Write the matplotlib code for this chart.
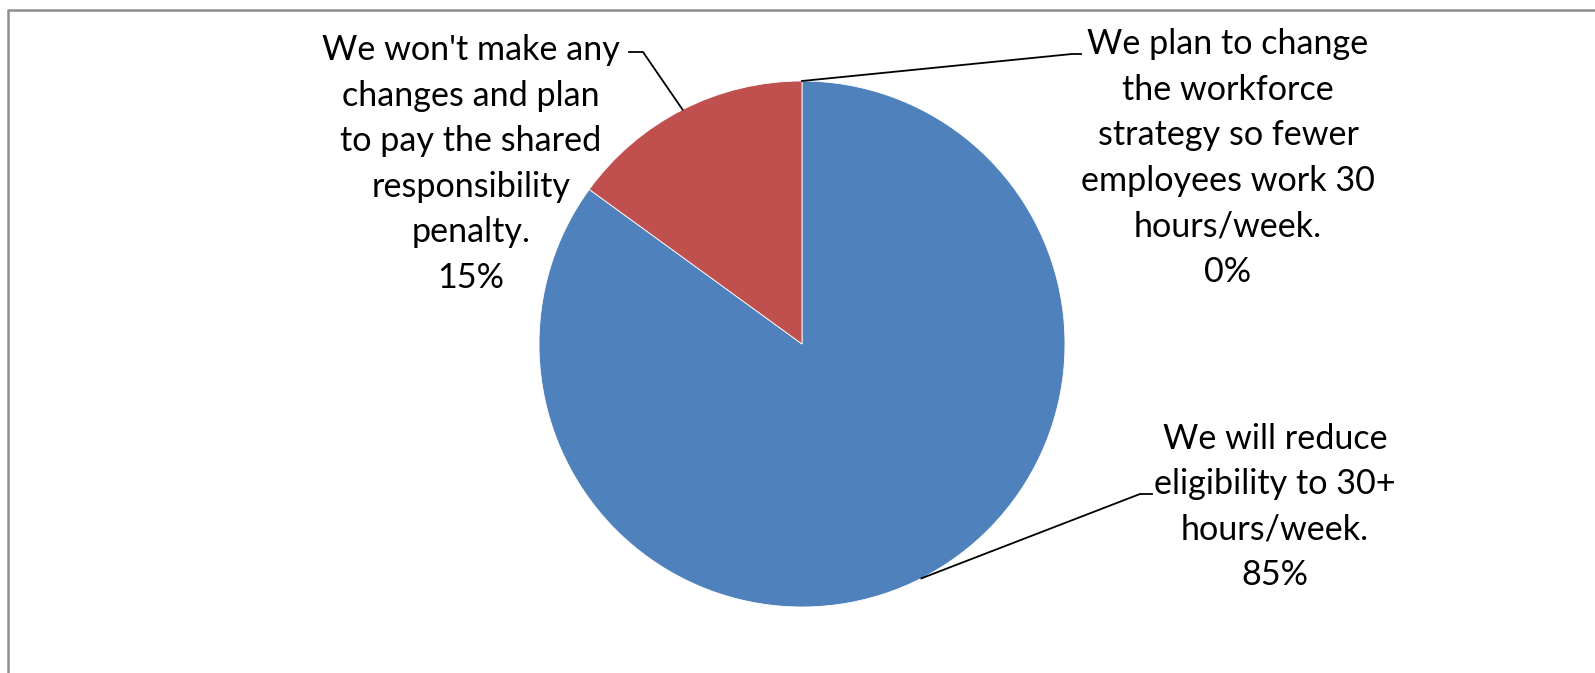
import numpy as np
import matplotlib.pyplot as plt
from matplotlib.lines import Line2D

# Survey answers, in the order the wedges are laid out (clockwise from 12 o'clock)
categories = [
    "We plan to change\nthe workforce\nstrategy so fewer\nemployees work 30\nhours/week.",
    "We will reduce\neligibility to 30+\nhours/week.",
    "We won't make any\nchanges and plan\nto pay the shared\nresponsibility\npenalty.",
]
shares = [0, 85, 15]
colors = ["#9BBB59", "#4F81BD", "#C0504D"]

W, H = 1595, 673
fig = plt.figure(figsize=(W / 100, H / 100), dpi=100)
ax = fig.add_axes([0, 0, 1, 1])

cx, cy, r = 802, H - 344, 263
ax.pie(shares, colors=colors, startangle=90, counterclock=False,
       center=(cx, cy), radius=r, frame=True,
       wedgeprops=dict(linewidth=0.6, edgecolor="white"))
ax.set_xlim(0, W)
ax.set_ylim(0, H)
ax.set_aspect("equal")
ax.axis("off")

# label placement: centre of text block, elbow of the leader line, end of leader
label_pos = [
    dict(x=1228, y=H - 158, elbow=(1072, H - 54), end=(1081, H - 54)),
    dict(x=1275, y=H - 507, elbow=(1140, H - 494), end=(1152, H - 494)),
    dict(x=471, y=H - 164, elbow=(643, H - 52), end=(629, H - 52)),
]

total = sum(shares)
start = 90.0
for cat, val, pos in zip(categories, shares, label_pos):
    sweep = 360.0 * val / total
    mid = np.deg2rad(start - sweep / 2)
    start -= sweep
    px, py = cx + r * np.cos(mid), cy + r * np.sin(mid)
    ex, ey = pos["elbow"]
    fx, fy = pos["end"]
    ax.add_line(Line2D([px, ex, fx], [py, ey, fy], color="black", lw=1.3))
    ax.text(pos["x"], pos["y"], f"{cat}\n{val}%", ha="center", va="center",
            fontsize=24.6, family="Lato", linespacing=1.52, color="black")

# chart area frame (only top and left edges fall inside the image)
fig.add_artist(Line2D([7.5 / W, 7.5 / W, 1.0], [0.0, 1 - 10 / H, 1 - 10 / H],
                      transform=fig.transFigure, color="#8E8E8E", lw=1.8))

fig.savefig("out.png", dpi=100, facecolor="white")
